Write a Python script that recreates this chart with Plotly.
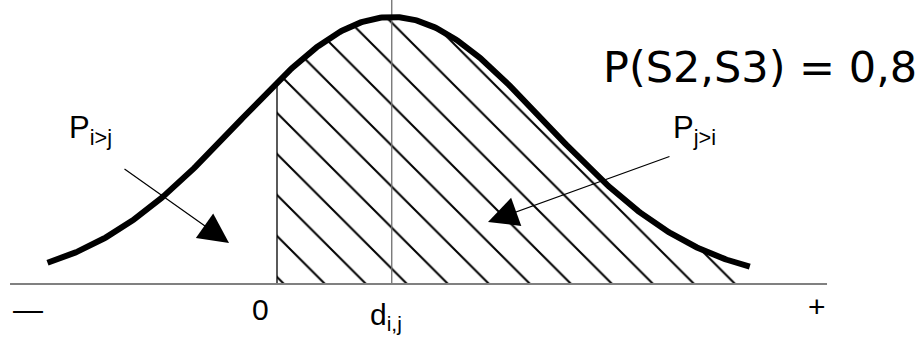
import numpy as np
import plotly.graph_objects as go

# ---- data (x in units of sigma, y relative to peak) ----
mean_d = 0.75          # position of d_i,j
sigma = 1.0
curve_start = -1.50
curve_end = 3.09
hatch_end = 3.04
axis_start = -1.745
axis_end = 3.595

axis_labels = ["—", "0", "d<sub>i,j</sub>", "+"]
axis_label_x = [-1.625, -0.11, 0.595, 3.53]
axis_label_y = [-0.094, -0.094, -0.12, -0.085]
axis_label_anchor = ["center", "center", "left", "center"]

title_text = "P(S2,S3) = 0,8"
p_labels = ["P<sub>i>j</sub>", "P<sub>j>i</sub>"]
p_label_x = [-1.37, 2.575]
p_label_y = [0.575, 0.578]
arrow_tail_x = [-1.0065, 2.575]
arrow_tail_y = [0.4345, 0.4794]
arrow_tip_x = [-0.3137, 1.379]
arrow_tip_y = [0.1536, 0.2322]


def density(x):
    return np.exp(-0.5 * ((np.asarray(x) - mean_d) / sigma) ** 2)


xs = np.linspace(curve_start, curve_end, 400)
xh = np.linspace(0.0, hatch_end, 300)

fig = go.Figure()

# hatched area P(j>i)
fig.add_trace(go.Scatter(
    x=xh, y=density(xh), mode="lines", line=dict(width=0, color="rgba(0,0,0,0)"),
    fill="tozeroy", fillcolor="white",
    fillpattern=dict(shape="\\", size=29, solidity=0.07, fgcolor="black",
                     fgopacity=1, bgcolor="white", fillmode="replace"),
    hoverinfo="skip"))

# vertical line at 0
fig.add_trace(go.Scatter(x=[0, 0], y=[0, float(density(0))], mode="lines",
                         line=dict(color="black", width=1.3), hoverinfo="skip"))
# vertical line at d
fig.add_trace(go.Scatter(x=[mean_d, mean_d], y=[0, 1.07], mode="lines",
                         line=dict(color="#6e6e6e", width=1.3), hoverinfo="skip"))
# horizontal axis
fig.add_trace(go.Scatter(x=[axis_start, axis_end], y=[0, 0], mode="lines",
                         line=dict(color="#808080", width=2), hoverinfo="skip"))
# bell curve
fig.add_trace(go.Scatter(x=xs, y=density(xs), mode="lines",
                         line=dict(color="black", width=6), hoverinfo="skip"))

ann = []
for t, x, y, a in zip(axis_labels, axis_label_x, axis_label_y, axis_label_anchor):
    ann.append(dict(x=x, y=y, xref="x", yref="y", text=t, showarrow=False,
                    xanchor=a, yanchor="middle",
                    font=dict(family="Liberation Sans, Arial", size=30, color="black")))
for t, x, y in zip(p_labels, p_label_x, p_label_y):
    ann.append(dict(x=x, y=y, xref="x", yref="y", text=t, showarrow=False,
                    xanchor="left", yanchor="middle",
                    font=dict(family="Liberation Sans, Arial", size=31, color="black")))
for tx, ty, hx, hy in zip(arrow_tail_x, arrow_tail_y, arrow_tip_x, arrow_tip_y):
    ann.append(dict(x=hx, y=hy, ax=tx, ay=ty, xref="x", yref="y", axref="x", ayref="y",
                    text="", showarrow=True, arrowhead=2, arrowsize=5, arrowwidth=1.2,
                    arrowcolor="black", standoff=0, startstandoff=0))
ann.append(dict(x=0.995, y=0.806, xref="paper", yref="paper", text=title_text, showarrow=False,
                xanchor="right", yanchor="middle",
                font=dict(family="DejaVu Sans", size=43, color="black")))

fig.update_layout(
    width=924, height=343, autosize=False,
    margin=dict(l=0, r=0, t=0, b=0, pad=0),
    paper_bgcolor="white", plot_bgcolor="white",
    showlegend=False,
    xaxis=dict(range=[-1.8105, 4.2288], visible=False, fixedrange=True),
    yaxis=dict(range=[-0.221, 1.0637], visible=False, fixedrange=True),
    annotations=ann,
)

fig.write_html("out.html", config={"displayModeBar": False},
               post_script="document.body.style.margin='0px';")
